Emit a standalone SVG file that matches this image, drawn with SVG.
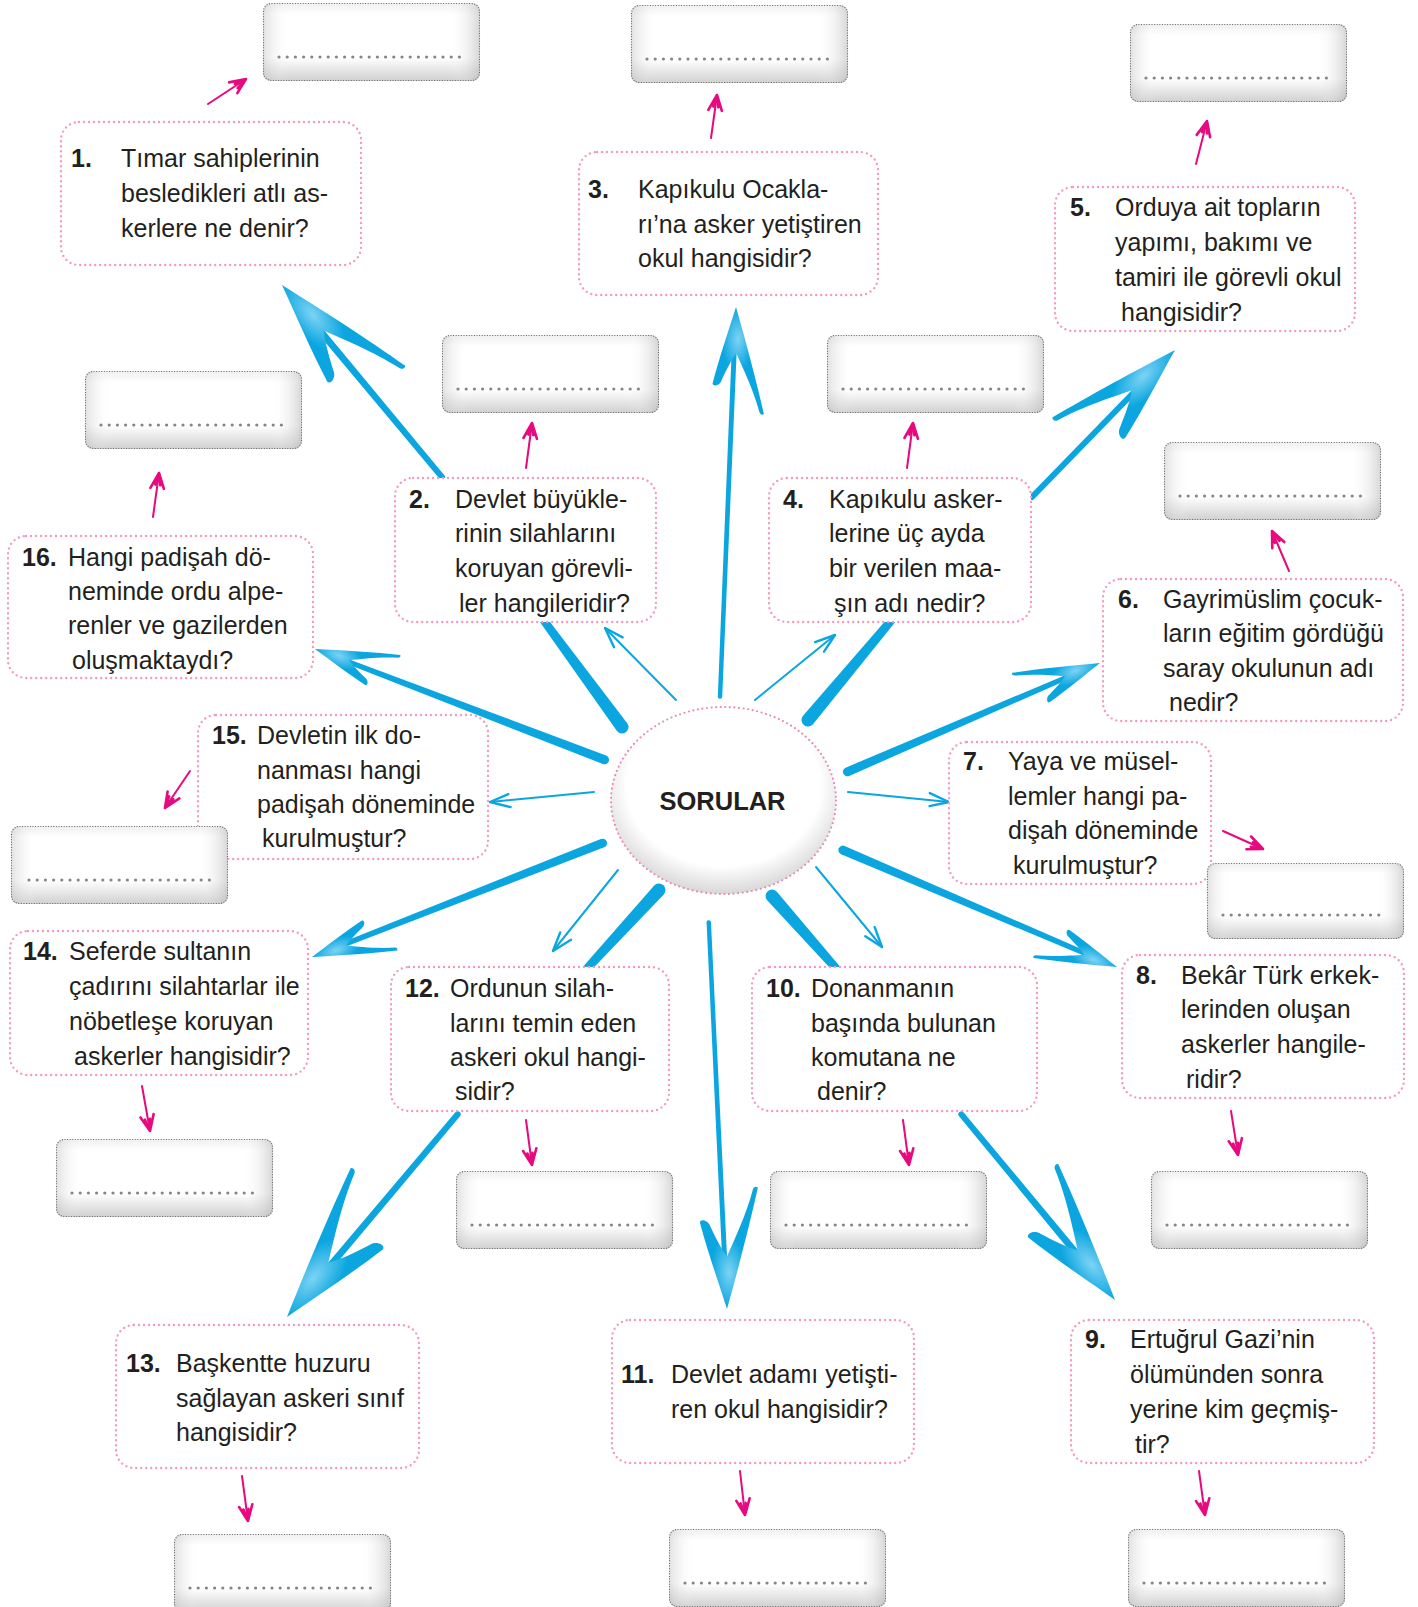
<svg xmlns="http://www.w3.org/2000/svg" xmlns:xlink="http://www.w3.org/1999/xlink" width="1418" height="1607" viewBox="0 0 1418 1607">
<style>
.t{font-family:"Liberation Sans",Arial,sans-serif;font-size:25px;fill:#231f20}
.n{font-weight:bold}
.qb{fill:#fff;stroke:#f39ac4;stroke-width:2.4;stroke-dasharray:0 5;stroke-linecap:round}
.ab{fill:url(#gV)}
.ah{fill:url(#gH)}
.ao{fill:none;stroke:#666;stroke-width:1.1;stroke-dasharray:1 1.6}
.ad{stroke:#858585;stroke-width:3.2;stroke-linecap:round;stroke-dasharray:0 8.2}
.bl{stroke:#0ba6e0;fill:none;stroke-linecap:round}
.bf{fill:#0ba6e0}
.hf{fill:url(#gB)}
.pk{stroke:#e6097f;stroke-width:2;fill:none;stroke-linecap:round}
</style>
<defs>
<linearGradient id="gV" x1="0" y1="0" x2="0" y2="1">
<stop offset="0" stop-color="#efefef"/><stop offset="0.14" stop-color="#ffffff"/><stop offset="0.7" stop-color="#ffffff"/><stop offset="1" stop-color="#d0d0d0"/>
</linearGradient>
<linearGradient id="gH" x1="0" y1="0" x2="1" y2="0">
<stop offset="0" stop-color="#bdbdbd" stop-opacity="0.45"/><stop offset="0.12" stop-color="#ffffff" stop-opacity="0"/><stop offset="0.86" stop-color="#ffffff" stop-opacity="0"/><stop offset="1" stop-color="#b5b5b5" stop-opacity="0.55"/>
</linearGradient>
<radialGradient id="gE" cx="0.5" cy="0.42" r="0.6">
<stop offset="0" stop-color="#ffffff"/><stop offset="0.72" stop-color="#ffffff"/><stop offset="1" stop-color="#d2d2d2"/>
</radialGradient>
<radialGradient id="gB" cx="0.7" cy="0.45" r="0.3">
<stop offset="0" stop-color="#7dd3f4"/><stop offset="1" stop-color="#0ba6e0"/>
</radialGradient>
<path id="hd" d="M0,0 C-45,15 -100,32 -141,43 C-143,41 -142,38 -139,37 C-110,28 -80,12 -62,3 C-72,-4 -86,-10 -98,-15 C-106,-17 -108,-27 -103,-27 C-70,-20 -30,-8 0,0 Z"/>
<marker id="pm" markerUnits="userSpaceOnUse" orient="auto" refX="0" refY="0" markerWidth="30" markerHeight="30" overflow="visible">
<path d="M-16,-6.5 L0,0 L-15,7 M-12,-2 L0,0 L-12,3" fill="none" stroke="#e6097f" stroke-width="2.6" stroke-linejoin="round" stroke-linecap="round"/>
</marker>
<marker id="bm" markerUnits="userSpaceOnUse" orient="auto" refX="0" refY="0" markerWidth="30" markerHeight="30" overflow="visible">
<path d="M-20,-7 L0,0 L-19,6" fill="none" stroke="#0ba6e0" stroke-width="2.4" stroke-linejoin="round" stroke-linecap="round"/>
</marker>
</defs>
<rect width="1418" height="1607" fill="#ffffff"/>
<g id="connectors">
<g class="bf">
<path transform="translate(622,727) rotate(53.7)" d="M0,-6.5 L-135,-4 L-135,4 L0,6.5 A6.5,6.5 0 0 0 0,-6.5 Z"/>
<path transform="translate(808,720) rotate(129.9)" d="M0,-6.5 L-136,-4 L-136,4 L0,6.5 A6.5,6.5 0 0 0 0,-6.5 Z"/>
<path transform="translate(659,890) rotate(-47.5)" d="M0,-6.5 L-114,-4 L-114,4 L0,6.5 A6.5,6.5 0 0 0 0,-6.5 Z"/>
<path transform="translate(772,896) rotate(-131.5)" d="M0,-6.5 L-106,-4 L-106,4 L0,6.5 A6.5,6.5 0 0 0 0,-6.5 Z"/>
</g>
<g class="bl">
<line x1="676" y1="700" x2="605" y2="628" stroke-width="2" marker-end="url(#bm)"/>
<line x1="755" y1="700" x2="835" y2="635" stroke-width="2" marker-end="url(#bm)"/>
<line x1="594" y1="792" x2="490" y2="802" stroke-width="2" marker-end="url(#bm)"/>
<line x1="848" y1="792" x2="949" y2="802" stroke-width="2" marker-end="url(#bm)"/>
<line x1="618" y1="870" x2="553" y2="951" stroke-width="2" marker-end="url(#bm)"/>
<line x1="816" y1="867" x2="882" y2="947" stroke-width="2" marker-end="url(#bm)"/>
</g>
<g transform="translate(282,285) rotate(-129.8)"><path class="bf" d="M-250,-3 L-40,-3.5 L-40,3.5 L-250,3 A3,3 0 0 1 -250,-3 Z"/><use xlink:href="#hd" class="hf"/></g>
<g transform="translate(736,307) rotate(-87.65)"><path class="bf" d="M-390,-2.2 L-30,-2.5 L-30,2.5 L-390,2.2 A2.2,2.2 0 0 1 -390,-2.2 Z"/><use xlink:href="#hd" class="hf" transform="scale(0.75,0.75)"/></g>
<g transform="translate(1175,350) rotate(-45.8)"><path class="bf" d="M-205,-3 L-38,-3 L-38,3 L-205,3 A3,3 0 0 1 -205,-3 Z"/><use xlink:href="#hd" class="hf" transform="scale(0.95,-0.95)"/></g>
<g transform="translate(1100,663) rotate(-23.3)"><path class="bf" d="M-275,-4.5 L-24,-2.5 L-24,2.5 L-275,4.5 A4.5,4.5 0 0 1 -275,-4.5 Z"/><use xlink:href="#hd" class="hf" transform="scale(0.6,-0.6)"/></g>
<g transform="translate(315,649) rotate(-159.06)"><path class="bf" d="M-310,-4.5 L-23,-2.5 L-23,2.5 L-310,4.5 A4.5,4.5 0 0 1 -310,-4.5 Z"/><use xlink:href="#hd" class="hf" transform="scale(0.58,0.58)"/></g>
<g transform="translate(312,957) rotate(158.6)"><path class="bf" d="M-312,-4.5 L-23,-2.5 L-23,2.5 L-312,4.5 A4.5,4.5 0 0 1 -312,-4.5 Z"/><use xlink:href="#hd" class="hf" transform="scale(0.58,-0.58)"/></g>
<g transform="translate(1117,967) rotate(23.1)"><path class="bf" d="M-298,-4.5 L-23,-2.5 L-23,2.5 L-298,4.5 A4.5,4.5 0 0 1 -298,-4.5 Z"/><use xlink:href="#hd" class="hf" transform="scale(0.57,0.57)"/></g>
<g transform="translate(287,1317) rotate(130.1)"><path class="bf" d="M-265,-3 L-44,-3.5 L-44,3.5 L-265,3 A3,3 0 0 1 -265,-3 Z"/><use xlink:href="#hd" class="hf" transform="scale(1.1,1.1)"/></g>
<g transform="translate(1115,1300) rotate(50.4)"><path class="bf" d="M-241,-3 L-40,-3.5 L-40,3.5 L-241,3 A3,3 0 0 1 -241,-3 Z"/><use xlink:href="#hd" class="hf" transform="scale(1,-1)"/></g>
<g transform="translate(727,1309) rotate(87.3)"><path class="bf" d="M-387,-2.2 L-34,-2.5 L-34,2.5 L-387,2.2 A2.2,2.2 0 0 1 -387,-2.2 Z"/><use xlink:href="#hd" class="hf" transform="scale(0.85,-0.85)"/></g>
<g class="pk">
<line x1="208" y1="104" x2="246" y2="79" marker-end="url(#pm)"/>
<line x1="711" y1="138" x2="717" y2="95" marker-end="url(#pm)"/>
<line x1="1196" y1="164" x2="1207" y2="121" marker-end="url(#pm)"/>
<line x1="526" y1="468" x2="532" y2="423" marker-end="url(#pm)"/>
<line x1="907" y1="468" x2="913" y2="423" marker-end="url(#pm)"/>
<line x1="153" y1="517" x2="159" y2="473" marker-end="url(#pm)"/>
<line x1="1289" y1="571" x2="1272" y2="531" marker-end="url(#pm)"/>
<line x1="190" y1="771" x2="165" y2="808" marker-end="url(#pm)"/>
<line x1="1223" y1="831" x2="1263" y2="849" marker-end="url(#pm)"/>
<line x1="142" y1="1086" x2="150" y2="1131" marker-end="url(#pm)"/>
<line x1="526" y1="1120" x2="532" y2="1165" marker-end="url(#pm)"/>
<line x1="903" y1="1120" x2="909" y2="1165" marker-end="url(#pm)"/>
<line x1="1231" y1="1111" x2="1238" y2="1155" marker-end="url(#pm)"/>
<line x1="242" y1="1476" x2="248" y2="1521" marker-end="url(#pm)"/>
<line x1="740" y1="1471" x2="745" y2="1515" marker-end="url(#pm)"/>
<line x1="1199" y1="1471" x2="1205" y2="1515" marker-end="url(#pm)"/>
</g>
</g>
<g id="center">
<ellipse cx="723.5" cy="800.5" rx="112.5" ry="93.5" fill="url(#gE)" stroke="#e98ab6" stroke-width="2.2" stroke-dasharray="0 4.6" stroke-linecap="round"/>
<text class="t n" x="722.5" y="810" text-anchor="middle" style="font-size:25.5px">SORULAR</text>
</g>
<g id="q1"><rect class="qb" x="61" y="122" width="300" height="143" rx="18"/>
<text class="t n" x="71" y="167">1.</text>
<text class="t" x="121" y="167">Tımar sahiplerinin</text>
<text class="t" x="121" y="202">besledikleri atlı as-</text>
<text class="t" x="121" y="237">kerlere ne denir?</text></g>
<g id="q3"><rect class="qb" x="579" y="152" width="299" height="143" rx="18"/>
<text class="t n" x="588" y="198">3.</text>
<text class="t" x="638" y="198">Kapıkulu Ocakla-</text>
<text class="t" x="638" y="233">rı’na asker yetiştiren</text>
<text class="t" x="638" y="267">okul hangisidir?</text></g>
<g id="q5"><rect class="qb" x="1055" y="187" width="300" height="144" rx="18"/>
<text class="t n" x="1070" y="216">5.</text>
<text class="t" x="1115" y="216">Orduya ait topların</text>
<text class="t" x="1115" y="251">yapımı, bakımı ve</text>
<text class="t" x="1115" y="286">tamiri ile görevli okul</text>
<text class="t" x="1121" y="321">hangisidir?</text></g>
<g id="q2"><rect class="qb" x="395" y="478" width="261" height="144" rx="18"/>
<text class="t n" x="409" y="508">2.</text>
<text class="t" x="455" y="508">Devlet büyükle-</text>
<text class="t" x="455" y="542">rinin silahlarını</text>
<text class="t" x="455" y="577">koruyan görevli-</text>
<text class="t" x="459" y="612">ler hangileridir?</text></g>
<g id="q4"><rect class="qb" x="769" y="478" width="262" height="144" rx="18"/>
<text class="t n" x="783" y="508">4.</text>
<text class="t" x="829" y="508">Kapıkulu asker-</text>
<text class="t" x="829" y="542">lerine üç ayda</text>
<text class="t" x="829" y="577">bir verilen maa-</text>
<text class="t" x="834" y="612">şın adı nedir?</text></g>
<g id="q16"><rect class="qb" x="8" y="536" width="305" height="142" rx="18"/>
<text class="t n" x="22" y="566">16.</text>
<text class="t" x="68" y="566">Hangi padişah dö-</text>
<text class="t" x="68" y="600">neminde ordu alpe-</text>
<text class="t" x="68" y="634">renler ve gazilerden</text>
<text class="t" x="72" y="669">oluşmaktaydı?</text></g>
<g id="q6"><rect class="qb" x="1103" y="579" width="300" height="142" rx="18"/>
<text class="t n" x="1118" y="608">6.</text>
<text class="t" x="1163" y="608">Gayrimüslim çocuk-</text>
<text class="t" x="1163" y="642">ların eğitim gördüğü</text>
<text class="t" x="1163" y="677">saray okulunun adı</text>
<text class="t" x="1169" y="711">nedir?</text></g>
<g id="q15"><rect class="qb" x="198" y="715" width="290" height="144" rx="18"/>
<text class="t n" x="212" y="744">15.</text>
<text class="t" x="257" y="744">Devletin ilk do-</text>
<text class="t" x="257" y="779">nanması hangi</text>
<text class="t" x="257" y="813">padişah döneminde</text>
<text class="t" x="262" y="847">kurulmuştur?</text></g>
<g id="q7"><rect class="qb" x="949" y="742" width="262" height="142" rx="18"/>
<text class="t n" x="963" y="770">7.</text>
<text class="t" x="1008" y="770">Yaya ve müsel-</text>
<text class="t" x="1008" y="805">lemler hangi pa-</text>
<text class="t" x="1008" y="839">dişah döneminde</text>
<text class="t" x="1013" y="874">kurulmuştur?</text></g>
<g id="q14"><rect class="qb" x="10" y="931" width="298" height="144" rx="18"/>
<text class="t n" x="23" y="960">14.</text>
<text class="t" x="69" y="960">Seferde sultanın</text>
<text class="t" x="69" y="995">çadırını silahtarlar ile</text>
<text class="t" x="69" y="1030">nöbetleşe koruyan</text>
<text class="t" x="74" y="1065">askerler hangisidir?</text></g>
<g id="q12"><rect class="qb" x="391" y="967" width="278" height="144" rx="18"/>
<text class="t n" x="405" y="997">12.</text>
<text class="t" x="450" y="997">Ordunun silah-</text>
<text class="t" x="450" y="1032">larını temin eden</text>
<text class="t" x="450" y="1066">askeri okul hangi-</text>
<text class="t" x="455" y="1100">sidir?</text></g>
<g id="q10"><rect class="qb" x="752" y="967" width="285" height="144" rx="18"/>
<text class="t n" x="766" y="997">10.</text>
<text class="t" x="811" y="997">Donanmanın</text>
<text class="t" x="811" y="1032">başında bulunan</text>
<text class="t" x="811" y="1066">komutana ne</text>
<text class="t" x="817" y="1100">denir?</text></g>
<g id="q8"><rect class="qb" x="1122" y="955" width="282" height="143" rx="18"/>
<text class="t n" x="1136" y="984">8.</text>
<text class="t" x="1181" y="984">Bekâr Türk erkek-</text>
<text class="t" x="1181" y="1018">lerinden oluşan</text>
<text class="t" x="1181" y="1053">askerler hangile-</text>
<text class="t" x="1186" y="1088">ridir?</text></g>
<g id="q13"><rect class="qb" x="116" y="1325" width="303" height="143" rx="18"/>
<text class="t n" x="126" y="1372">13.</text>
<text class="t" x="176" y="1372">Başkentte huzuru</text>
<text class="t" x="176" y="1407">sağlayan askeri sınıf</text>
<text class="t" x="176" y="1441">hangisidir?</text></g>
<g id="q11"><rect class="qb" x="612" y="1320" width="302" height="143" rx="18"/>
<text class="t n" x="621" y="1383">11.</text>
<text class="t" x="671" y="1383">Devlet adamı yetişti-</text>
<text class="t" x="671" y="1418">ren okul hangisidir?</text></g>
<g id="q9"><rect class="qb" x="1071" y="1320" width="303" height="143" rx="18"/>
<text class="t n" x="1085" y="1348">9.</text>
<text class="t" x="1130" y="1348">Ertuğrul Gazi’nin</text>
<text class="t" x="1130" y="1383">ölümünden sonra</text>
<text class="t" x="1130" y="1418">yerine kim geçmiş-</text>
<text class="t" x="1135" y="1453">tir?</text></g>
<g id="a1" transform="translate(263,3)"><rect class="ab" width="217" height="78" rx="8"/><rect class="ah" width="217" height="78" rx="8"/><rect class="ao" x="0.5" y="0.5" width="216" height="77" rx="8"/><line class="ad" x1="16" y1="54" x2="200" y2="54"/></g>
<g id="a3" transform="translate(631,5)"><rect class="ab" width="217" height="78" rx="8"/><rect class="ah" width="217" height="78" rx="8"/><rect class="ao" x="0.5" y="0.5" width="216" height="77" rx="8"/><line class="ad" x1="16" y1="54" x2="200" y2="54"/></g>
<g id="a5" transform="translate(1130,24)"><rect class="ab" width="217" height="78" rx="8"/><rect class="ah" width="217" height="78" rx="8"/><rect class="ao" x="0.5" y="0.5" width="216" height="77" rx="8"/><line class="ad" x1="16" y1="54" x2="200" y2="54"/></g>
<g id="a2" transform="translate(442,335)"><rect class="ab" width="217" height="78" rx="8"/><rect class="ah" width="217" height="78" rx="8"/><rect class="ao" x="0.5" y="0.5" width="216" height="77" rx="8"/><line class="ad" x1="16" y1="54" x2="200" y2="54"/></g>
<g id="a4" transform="translate(827,335)"><rect class="ab" width="217" height="78" rx="8"/><rect class="ah" width="217" height="78" rx="8"/><rect class="ao" x="0.5" y="0.5" width="216" height="77" rx="8"/><line class="ad" x1="16" y1="54" x2="200" y2="54"/></g>
<g id="a16" transform="translate(85,371)"><rect class="ab" width="217" height="78" rx="8"/><rect class="ah" width="217" height="78" rx="8"/><rect class="ao" x="0.5" y="0.5" width="216" height="77" rx="8"/><line class="ad" x1="16" y1="54" x2="200" y2="54"/></g>
<g id="a6" transform="translate(1164,442)"><rect class="ab" width="217" height="78" rx="8"/><rect class="ah" width="217" height="78" rx="8"/><rect class="ao" x="0.5" y="0.5" width="216" height="77" rx="8"/><line class="ad" x1="16" y1="54" x2="200" y2="54"/></g>
<g id="a15" transform="translate(11,826)"><rect class="ab" width="217" height="78" rx="8"/><rect class="ah" width="217" height="78" rx="8"/><rect class="ao" x="0.5" y="0.5" width="216" height="77" rx="8"/><line class="ad" x1="18" y1="54" x2="202" y2="54"/></g>
<g id="a7" transform="translate(1207,863)"><rect class="ab" width="197" height="76" rx="8"/><rect class="ah" width="197" height="76" rx="8"/><rect class="ao" x="0.5" y="0.5" width="196" height="75" rx="8"/><line class="ad" x1="16" y1="52" x2="180" y2="52"/></g>
<g id="a14" transform="translate(56,1139)"><rect class="ab" width="217" height="78" rx="8"/><rect class="ah" width="217" height="78" rx="8"/><rect class="ao" x="0.5" y="0.5" width="216" height="77" rx="8"/><line class="ad" x1="16" y1="54" x2="200" y2="54"/></g>
<g id="a12" transform="translate(456,1171)"><rect class="ab" width="217" height="78" rx="8"/><rect class="ah" width="217" height="78" rx="8"/><rect class="ao" x="0.5" y="0.5" width="216" height="77" rx="8"/><line class="ad" x1="16" y1="54" x2="200" y2="54"/></g>
<g id="a10" transform="translate(770,1171)"><rect class="ab" width="217" height="78" rx="8"/><rect class="ah" width="217" height="78" rx="8"/><rect class="ao" x="0.5" y="0.5" width="216" height="77" rx="8"/><line class="ad" x1="16" y1="54" x2="200" y2="54"/></g>
<g id="a8" transform="translate(1151,1171)"><rect class="ab" width="217" height="78" rx="8"/><rect class="ah" width="217" height="78" rx="8"/><rect class="ao" x="0.5" y="0.5" width="216" height="77" rx="8"/><line class="ad" x1="16" y1="54" x2="200" y2="54"/></g>
<g id="a13" transform="translate(174,1534)"><rect class="ab" width="217" height="78" rx="8"/><rect class="ah" width="217" height="78" rx="8"/><rect class="ao" x="0.5" y="0.5" width="216" height="77" rx="8"/><line class="ad" x1="16" y1="54" x2="200" y2="54"/></g>
<g id="a11" transform="translate(669,1529)"><rect class="ab" width="217" height="78" rx="8"/><rect class="ah" width="217" height="78" rx="8"/><rect class="ao" x="0.5" y="0.5" width="216" height="77" rx="8"/><line class="ad" x1="16" y1="54" x2="200" y2="54"/></g>
<g id="a9" transform="translate(1128,1529)"><rect class="ab" width="217" height="78" rx="8"/><rect class="ah" width="217" height="78" rx="8"/><rect class="ao" x="0.5" y="0.5" width="216" height="77" rx="8"/><line class="ad" x1="16" y1="54" x2="200" y2="54"/></g>
</svg>
